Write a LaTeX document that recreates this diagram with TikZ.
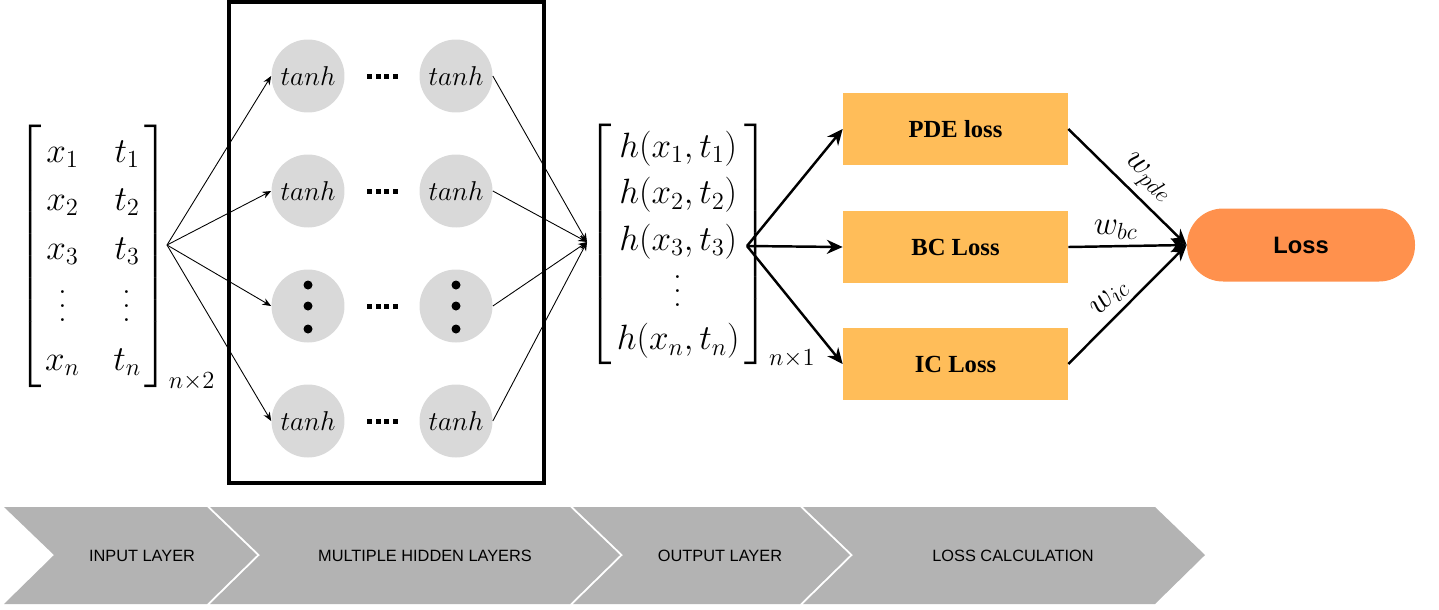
\RequirePackage{fix-cm}
\documentclass[tikz,border=0pt]{standalone}
\usepackage{fontspec}
\usepackage{amsmath}
\usetikzlibrary{arrows.meta}
\newfontfamily\boxserif{Liberation Serif}
\newfontfamily\stagesans{Liberation Sans}
\newcommand\tallvdots{\vcenter{\baselineskip8pt \lineskiplimit0pt \hbox{.}\hbox{.}\hbox{.}}}

\definecolor{neurongray}{HTML}{D9D9D9}
\definecolor{lossyellow}{HTML}{FFBD59}
\definecolor{lossorange}{HTML}{FF914D}
\definecolor{stagegray}{HTML}{B3B3B3}

\tikzset{
    neuron/.style={circle, fill=neurongray, minimum size=1.46cm, inner sep=0pt, font=\fontsize{15.5}{18}\selectfont},
    lossbox/.style={rectangle, fill=lossyellow, minimum width=4.5cm, minimum height=1.44cm, font=\boxserif\bfseries\fontsize{14}{16}\selectfont},
    matrixnode/.style={inner sep=0pt, anchor=west, font=\fontsize{20}{24}\selectfont},
    thinarrow/.style={-{Stealth[length=5pt,width=4pt]}, line width=0.5pt},
    thickarrow/.style={-{Stealth[length=9pt,width=8pt]}, line width=1.4pt},
    stagetext/.style={font=\stagesans\fontsize{9.3}{11}\selectfont}
}

\begin{document}
\begin{tikzpicture}[x=0.02cm, y=-0.02cm]
    \useasboundingbox (0,0) rectangle (1439,609);

    % input and output
    \node[matrixnode] (inmat) at (17,258) {$\renewcommand{\arraystretch}{1.15}\left[\begin{array}{@{\hspace{2pt}}c@{\hspace{19pt}}c@{\hspace{2pt}}} x_1 & t_1\\ x_2 & t_2\\ x_3 & t_3\\[4pt] \tallvdots & \tallvdots\\[4pt] x_n & t_n \end{array}\right]_{n\times 2}$};
    \node[matrixnode] (outmat) at (587,246) {$\renewcommand{\arraystretch}{1.1}\left[\begin{array}{@{\hspace{3pt}}c@{\hspace{3pt}}} h(x_1,t_1)\\ h(x_2,t_2)\\ h(x_3,t_3)\\[2pt] \tallvdots\\[2pt] h(x_n,t_n) \end{array}\right]_{n\times 1}$};
    \coordinate (infan) at (167,245);
    \coordinate (outfan) at (587,242);
    \coordinate (outsrc) at (747,246);

    % hidden layers
    \draw[line width=1.8pt] (229,2) rectangle (544,483);
    \foreach \r/\yy in {1/76,2/191,3/306,4/421}{
        \node[neuron] (a\r) at (308,\yy) {\ifnum\r=3 \else $tanh$\fi};
        \node[neuron] (b\r) at (456,\yy) {\ifnum\r=3 \else $tanh$\fi};
        \foreach \k in {0,...,3} \fill (367+\k*8.5,\yy-2.5) rectangle ++(5,5);
        \draw[thinarrow] (infan) -- (a\r.west);
        \draw[thinarrow] (b\r.east) -- (outfan);
    }
    \foreach \dy in {-21,0,23}{
        \fill ([yshift=-\dy*0.02cm]a3.center) circle (0.09cm);
        \fill ([yshift=-\dy*0.02cm]b3.center) circle (0.09cm);
    }

    % losses
    \node[lossbox] (pde) at (955.5,129) {PDE loss};
    \node[lossbox] (bc) at (955.5,247) {BC Loss};
    \node[lossbox] (ic) at (955.5,364) {IC Loss};
    \node[fill=lossorange, rounded corners=0.72cm, minimum width=4.56cm, minimum height=1.46cm, font=\stagesans\bfseries\fontsize{13.5}{15}\selectfont] (loss) at (1301,245) {Loss};

    \draw[thickarrow] (outsrc) -- (pde.west);
    \draw[thickarrow] (outsrc) -- (bc.west);
    \draw[thickarrow] (outsrc) -- (ic.west);

    \draw[thickarrow] (pde.east) -- node[above, sloped, pos=0.55, font=\fontsize{19}{22}\selectfont] {$w_{pde}$} (loss.west);
    \draw[thickarrow] (bc.east) -- node[above, pos=0.4, font=\fontsize{19}{22}\selectfont] {$w_{bc}$} (loss.west);
    \draw[thickarrow] (ic.east) -- node[above, sloped, pos=0.45, font=\fontsize{19}{22}\selectfont] {$w_{ic}$} (loss.west);

    % stages
    \foreach \l/\r/\tx/\lab [count=\i] in {4/207/142/INPUT LAYER, 210/570/425/MULTIPLE HIDDEN LAYERS, 573/800/720/OUTPUT LAYER, 803/1155/1013/LOSS CALCULATION}{
        \fill[stagegray] (\l,507) -- (\r,507) -- (\r+50,555) -- (\r,604) -- (\l,604) -- (\l+50,555) -- cycle;
        \node[stagetext] (stage\i) at (\tx,556) {\lab};
    }
\end{tikzpicture}
\end{document}
